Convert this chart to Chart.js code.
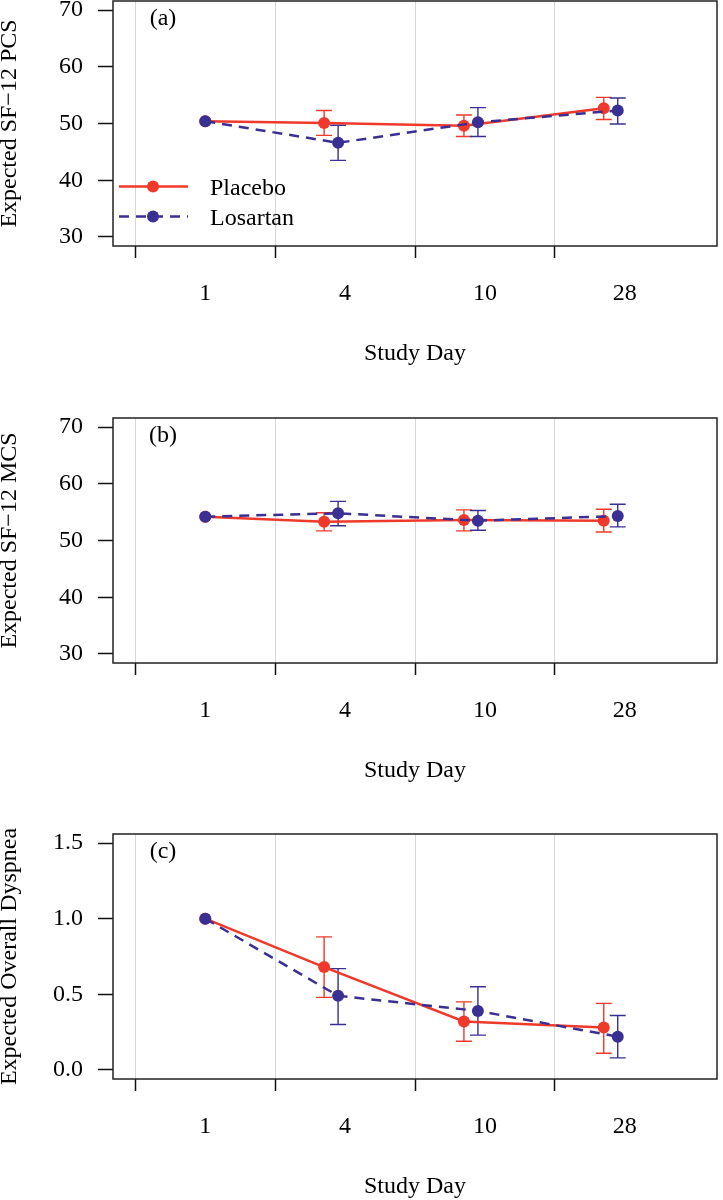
<!DOCTYPE html>
<html><head><meta charset="utf-8">
<script src="https://cdn.jsdelivr.net/npm/chart.js@4/dist/chart.umd.min.js"></script>
<style>
html,body{margin:0;padding:0;background:#fff;overflow:hidden;width:723px;height:1200px;position:relative;}
.panel{position:absolute;left:0;width:723px;height:437px;}
canvas{display:block;}
</style></head><body>
<div class="panel" style="top:-20px"><canvas id="cA" width="723" height="437"></canvas></div>
<div class="panel" style="top:397px"><canvas id="cB" width="723" height="437"></canvas></div>
<div class="panel" style="top:813px"><canvas id="cC" width="723" height="437"></canvas></div>
<script>
// ---- data ----
const days = ["1", "4", "10", "28"];
const seriesNames = ["Placebo", "Losartan"];

const pcsPlacebo    = [50.4, 50.1, 49.6, 52.7];
const pcsPlaceboLo  = [null, 47.9, 47.7, 50.7];
const pcsPlaceboHi  = [null, 52.3, 51.5, 54.6];
const pcsLosartan   = [50.4, 46.6, 50.2, 52.3];
const pcsLosartanLo = [null, 43.5, 47.7, 49.9];
const pcsLosartanHi = [null, 49.7, 52.8, 54.5];

const mcsPlacebo    = [54.2, 53.3, 53.6, 53.5];
const mcsPlaceboLo  = [null, 51.7, 51.7, 51.5];
const mcsPlaceboHi  = [null, 54.9, 55.4, 55.5];
const mcsLosartan   = [54.2, 54.8, 53.5, 54.3];
const mcsLosartanLo = [null, 52.6, 51.8, 52.4];
const mcsLosartanHi = [null, 56.9, 55.3, 56.4];

const dysPlacebo    = [1.00, 0.68, 0.32, 0.28];
const dysPlaceboLo  = [null, 0.48, 0.19, 0.11];
const dysPlaceboHi  = [null, 0.88, 0.45, 0.44];
const dysLosartan   = [1.00, 0.49, 0.39, 0.22];
const dysLosartanLo = [null, 0.30, 0.23, 0.08];
const dysLosartanHi = [null, 0.67, 0.55, 0.36];

const scoreTicks = [30, 40, 50, 60, 70];
const dyspneaTicks = [0, 0.5, 1.0, 1.5];

// ---- styling ----
const FONT = "'Liberation Serif', 'Times New Roman', serif";
const RED = "#EF3A2B";
const BLUE = "#3A2F93";
const PLACEBO_SHIFT = -0.15;
const LOSARTAN_SHIFT = -0.05;

function pts(values, shift) {
  return values.map((v, i) => ({ x: i + 1 + (i === 0 ? 0 : shift), y: v }));
}
function isHalf(v) { return Math.abs(v - Math.round(v)) > 0.25; }

const boxPlugin = {
  id: 'box',
  afterDraw(chart) {
    const { ctx, chartArea: a } = chart;
    ctx.save();
    ctx.strokeStyle = '#222';
    ctx.lineWidth = 1.5;
    ctx.strokeRect(a.left, a.top, a.right - a.left, a.bottom - a.top);
    ctx.restore();
  }
};

const errorBarPlugin = {
  id: 'errbars',
  beforeDatasetsDraw(chart) {
    const { ctx } = chart;
    const xs = chart.scales.x, ys = chart.scales.y;
    ctx.save();
    chart.data.datasets.forEach(ds => {
      if (!ds.errLo) return;
      ctx.strokeStyle = ds.borderColor;
      ctx.lineWidth = 1.4;
      ctx.setLineDash([]);
      ds.data.forEach((p, i) => {
        const lo = ds.errLo[i], hi = ds.errHi[i];
        if (lo == null || hi == null) return;
        const px = xs.getPixelForValue(p.x);
        const yl = ys.getPixelForValue(lo), yh = ys.getPixelForValue(hi);
        ctx.beginPath();
        ctx.moveTo(px, yl); ctx.lineTo(px, yh);
        ctx.moveTo(px - 8, yl); ctx.lineTo(px + 8, yl);
        ctx.moveTo(px - 8, yh); ctx.lineTo(px + 8, yh);
        ctx.stroke();
      });
    });
    ctx.restore();
  }
};

const textPlugin = {
  id: 'panelText',
  afterDraw(chart, args, opts) {
    const { ctx, chartArea: a } = chart;
    ctx.save();
    ctx.fillStyle = '#000';
    ctx.font = "24px " + FONT;
    // panel tag
    if (opts.tag) {
      ctx.textAlign = 'center';
      ctx.textBaseline = 'alphabetic';
      ctx.fillText(opts.tag, a.left + 50, a.top + 24);
    }
    // y-axis title (rotated)
    if (opts.yTitle) {
      ctx.translate(10, (a.top + a.bottom) / 2);
      ctx.rotate(-Math.PI / 2);
      ctx.textAlign = 'center';
      ctx.textBaseline = 'middle';
      ctx.fillText(opts.yTitle, 0, 0);
    }
    ctx.restore();
  }
};

const insetLegendPlugin = {
  id: 'insetLegend',
  afterDraw(chart, args, opts) {
    if (!opts.show) return;
    const { ctx, chartArea: a } = chart;
    const rows = [
      { ds: chart.data.datasets.find(d => d.label === seriesNames[0]), y: a.top + 185.5 },
      { ds: chart.data.datasets.find(d => d.label === seriesNames[1]), y: a.top + 215.5 }
    ];
    ctx.save();
    rows.forEach(r => {
      ctx.strokeStyle = r.ds.borderColor;
      ctx.lineWidth = r.ds.borderWidth;
      ctx.setLineDash(r.ds.borderDash || []);
      ctx.beginPath();
      ctx.moveTo(a.left + 6, r.y); ctx.lineTo(a.left + 75, r.y);
      ctx.stroke();
      ctx.setLineDash([]);
      ctx.fillStyle = r.ds.pointBackgroundColor;
      ctx.beginPath();
      ctx.arc(a.left + 40, r.y, 6, 0, Math.PI * 2);
      ctx.fill();
      ctx.fillStyle = '#000';
      ctx.font = "24px " + FONT;
      ctx.textAlign = 'left';
      ctx.textBaseline = 'alphabetic';
      ctx.fillText(r.ds.label, a.left + 97, r.y + 8);
    });
    ctx.restore();
  }
};

function makePanel(id, tag, yTitle, yTicks, yMin, yMax, decimals, pl, plLo, plHi, lo, loLo, loHi, showLegend) {
  const datasets = [
    {
      label: seriesNames[0], data: pts(pl, PLACEBO_SHIFT), errLo: plLo, errHi: plHi,
      borderColor: RED, backgroundColor: RED, pointBackgroundColor: RED,
      borderWidth: 2.5, pointRadius: 6, pointBorderWidth: 0, tension: 0, order: 2
    },
    {
      label: seriesNames[1], data: pts(lo, LOSARTAN_SHIFT), errLo: loLo, errHi: loHi,
      borderColor: BLUE, backgroundColor: BLUE, pointBackgroundColor: BLUE,
      borderWidth: 2.5, borderDash: [10, 7], pointRadius: 6, pointBorderWidth: 0, tension: 0, order: 1
    }
  ];
  return new Chart(document.getElementById(id), {
    type: 'line',
    data: { datasets },
    plugins: [errorBarPlugin, boxPlugin, textPlugin, insetLegendPlugin],
    options: {
      responsive: false, animation: false, devicePixelRatio: 1,
      layout: { padding: { left: 0, right: 1, top: 21, bottom: 0 } },
      plugins: {
        legend: { display: false }, tooltip: { enabled: false },
        panelText: { tag: tag, yTitle: yTitle }, insetLegend: { show: showLegend }
      },
      scales: {
        x: {
          type: 'linear', min: 0.34, max: 4.66,
          afterBuildTicks: s => { s.ticks = [0.5, 1, 1.5, 2, 2.5, 3, 3.5, 4].map(v => ({ value: v })); },
          afterFit: s => { s.height = 171; s.paddingLeft = 0; s.paddingRight = 0; s.paddingTop = 0; s.paddingBottom = 0; },
          ticks: {
            autoSkip: false, maxRotation: 0, minRotation: 0, padding: 21, color: '#000',
            font: { family: FONT, size: 24 },
            callback: v => (isHalf(v) ? '' : days[Math.round(v) - 1])
          },
          grid: {
            drawOnChartArea: true, drawTicks: true, tickLength: 12, lineWidth: 1, tickWidth: 1.5,
            color: c => (c.tick && isHalf(c.tick.value) ? '#d6d6d6' : 'rgba(0,0,0,0)'),
            tickColor: c => (c.tick && isHalf(c.tick.value) ? '#111' : 'rgba(0,0,0,0)')
          },
          border: { display: false },
          title: {
            display: true, text: 'Study Day', color: '#000',
            font: { family: FONT, size: 24, lineHeight: 1 }, padding: { top: 0, bottom: 51 }
          }
        },
        y: {
          type: 'linear', min: yMin, max: yMax,
          afterBuildTicks: s => { s.ticks = yTicks.map(v => ({ value: v })); },
          afterFit: s => { s.width = 113; s.paddingTop = 0; s.paddingBottom = 0; s.paddingLeft = 0; s.paddingRight = 0; },
          ticks: {
            padding: 15, color: '#000', font: { family: FONT, size: 24 },
            callback: v => Number(v).toFixed(decimals)
          },
          grid: { drawOnChartArea: false, drawTicks: true, tickLength: 15, tickWidth: 1.5, tickColor: '#111' },
          border: { display: false },
          title: { display: false }
        }
      }
    }
  });
}

makePanel('cA', '(a)', 'Expected SF\u221212 PCS', scoreTicks, 28.4, 71.6, 0,
  pcsPlacebo, pcsPlaceboLo, pcsPlaceboHi, pcsLosartan, pcsLosartanLo, pcsLosartanHi, true);
makePanel('cB', '(b)', 'Expected SF\u221212 MCS', scoreTicks, 28.4, 71.6, 0,
  mcsPlacebo, mcsPlaceboLo, mcsPlaceboHi, mcsLosartan, mcsLosartanLo, mcsLosartanHi, false);
makePanel('cC', '(c)', 'Expected Overall Dyspnea', dyspneaTicks, -0.06, 1.56, 1,
  dysPlacebo, dysPlaceboLo, dysPlaceboHi, dysLosartan, dysLosartanLo, dysLosartanHi, false);
</script>
</body></html>
